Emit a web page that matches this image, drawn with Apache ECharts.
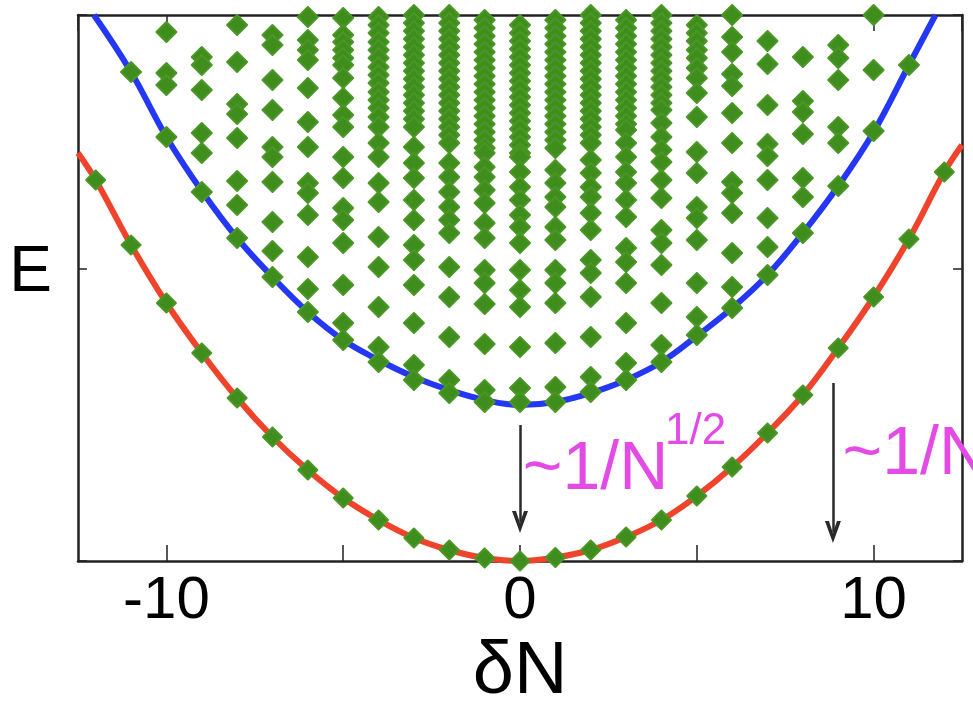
<!DOCTYPE html>
<html><head><meta charset="utf-8">
<script src="https://cdn.jsdelivr.net/npm/echarts@6/dist/echarts.min.js"></script>
<style>html,body{margin:0;padding:0;background:#fff}#c{width:973px;height:707px}</style>
</head><body><div id="c"></div>
<script>
// ---- data (E in arbitrary units; 0 = lowest state) ----
const xTickLabels = [-10, 0, 10];
const redX = [-12,-11,-10,-9,-8,-7,-6,-5,-4,-3,-2,-1,0,1,2,3,4,5,6,7,8,9,10,11,12];
const redE = [381,316,258,208,163,124,91,63,41,23,11,3,0,3.5,11,24,41,65,94,128,166,213,264,322,389];
const redCurveX = [-12.5,-12,-11,-10,-9,-8,-7,-6,-5,-4,-3,-2,-1,0,1,2,3,4,5,6,7,8,9,10,11,12,12.5];
const redCurveE = [408,381,316,258,208,163,124,91,63,41,23,11,3,0,3.5,11,24,41,65,94,128,166,213,264,322,389,416];
const blueCurveX = [-12.05,-11,-10,-9,-8,-7,-6,-5,-4,-3,-2,-1,0,1,2,3,4,5,6,7,8,9,10,11,11.75];
const blueCurveE = [546,489,424,370,323,284,249,221,201,184,171,161,156,159,168,181,199,225,253,286,328,375,429,496,546];
const greenColumnX = [-11,-10,-9,-8,-7,-6,-5,-4,-3,-2,-1,0,1,2,3,4,5,6,7,8,9,10,11];
const greenColumnE = [
  [489],
  [529,488,476,424],
  [504,496,471,428,408,369],
  [536,499,457,447,423,380,356,323],
  [526,516,481,451,414,404,379,339,310,284],
  [544,521,511,501,473,439,414,378,368,346,304,272,249],
  [543,526,519,511,503,496,483,463,446,434,404,383,353,341,318,276,238,221],
  [544,536,528,519,511,503,494,486,478,469,461,453,444,434,418,404,378,359,324,294,254,214,199],
  [546,538,530,522,514,506,498,490,482,474,466,458,450,442,434,414,398,383,361,341,316,301,276,238,196,181],
  [546,538,530,522,514,506,498,490,482,474,466,458,450,442,434,426,418,398,384,369,354,341,328,294,264,224,181,168],
  [541,533,525,517,509,501,493,485,477,469,461,453,445,437,429,421,413,408,394,384,371,358,338,323,291,278,257,217,171,159],
  [536,528,520,512,504,496,488,480,472,464,456,448,440,432,424,416,408,404,389,374,361,346,334,318,291,271,254,214,173,159],
  [541,533,525,517,509,501,493,485,477,469,461,453,445,437,429,421,413,391,378,364,354,334,321,291,278,258,218,174,159],
  [546,538,530,522,514,506,498,490,482,474,466,458,450,442,434,426,418,401,388,374,364,348,331,301,288,264,224,184,169],
  [541,533,525,517,509,501,493,485,477,469,461,453,445,437,431,418,404,389,378,361,344,313,299,278,238,198,181],
  [546,538,530,522,514,506,498,490,482,474,466,458,451,438,424,411,399,381,363,331,318,296,258,216,199],
  [536,528,520,511,503,493,483,468,444,409,388,354,343,321,278,244,226],
  [546,524,509,487,475,448,418,379,368,348,308,274,253],
  [520,497,456,417,405,381,343,314,286],
  [504,460,449,427,383,364,328],
  [516,503,481,434,418,375],
  [546,491,430],
  [496]
];
const arrowX = [0, 8.85];
const arrowFromE = [136, 178];
const arrowToE = [39, 29];
const annoText = ['~1/N', '~1/N'];
const annoX = [0.08, 9.12];
const annoE = [91, 106];
const supText = '1/2';
const supX = 4.1, supE = 129;
const yTitle = 'E', yTitleE = 288;

// ---- build ----
const greenPts = [];
greenColumnX.forEach((x, i) => greenColumnE[i].forEach(e => greenPts.push([x, e])));
const redPts = redX.map((x, i) => [x, redE[i]]);
const redLine = redCurveX.map((x, i) => [x, redCurveE[i]]);
const blueLine = blueCurveX.map((x, i) => [x, blueCurveE[i]]);
const arrows = arrowX.map((x, i) => [{coord: [x, arrowFromE[i]]}, {coord: [x, arrowToE[i]]}]);

const FONT = "'Liberation Sans',Arial,sans-serif";
const MAG = '#e44be6';
const GREEN = '#3f8e1d';
const axisLine = {show: true, onZero: false, lineStyle: {color: '#222', width: 2.5}};
const dotStyle = {color: GREEN, opacity: 1, borderColor: '#4a9626', borderWidth: 2, borderJoin: 'round'};

const chart = echarts.init(document.getElementById('c'), null, {renderer: 'canvas'});
const option = {
  animation: false,
  backgroundColor: '#fff',
  grid: {left: 78, right: 11, top: 15, bottom: 146, containLabel: false, outerBoundsMode: 'none'},
  xAxis: [{
    type: 'value', min: -12.5, max: 12.5, splitNumber: 5, position: 'bottom',
    axisLine, splitLine: {show: false},
    axisTick: {inside: true, length: 16, lineStyle: {color: '#222', width: 1.5}},
    axisLabel: {
      showMinLabel: false, showMaxLabel: false, margin: 10,
      fontSize: 60, color: '#000', fontFamily: FONT,
      formatter: v => (xTickLabels.indexOf(v) >= 0 ? String(v) : '')
    },
    name: 'δN', nameLocation: 'middle', nameGap: 60,
    nameTextStyle: {fontSize: 74, color: '#000', fontFamily: FONT}
  }, {
    type: 'value', min: -12.5, max: 12.5, splitNumber: 5, position: 'top',
    axisLine, splitLine: {show: false},
    axisTick: {inside: true, length: 16, lineStyle: {color: '#222', width: 1.5}},
    axisLabel: {show: false}
  }],
  yAxis: [{
    type: 'value', min: 0, max: 546, interval: 292, position: 'left',
    axisLine, splitLine: {show: false},
    axisTick: {inside: true, length: 9, lineStyle: {color: '#222', width: 1.5}},
    axisLabel: {show: false}
  }, {
    type: 'value', min: 0, max: 546, interval: 292, position: 'right',
    axisLine, splitLine: {show: false},
    axisTick: {inside: true, length: 9, lineStyle: {color: '#222', width: 1.5}},
    axisLabel: {show: false}
  }],
  series: [
    {type: 'line', data: redLine, smooth: 0.4, showSymbol: false, symbol: 'none',
     lineStyle: {color: '#f0432c', width: 6}, z: 2, silent: true},
    {type: 'line', data: blueLine, smooth: 0.4, showSymbol: false, symbol: 'none',
     lineStyle: {color: '#2437f5', width: 6}, z: 2, silent: true},
    {type: 'scatter', data: greenPts, symbol: 'diamond', symbolSize: 20, clip: false,
     itemStyle: dotStyle, z: 3, silent: true},
    {type: 'scatter', data: redPts, symbol: 'diamond', symbolSize: 19, clip: false,
     itemStyle: dotStyle, z: 3, silent: true,
     markLine: {
       silent: true, animation: false,
       symbol: ['none', 'path://M0,20 L10,0 L20,20 L15,20 L10,9 L5,20 Z'],
       symbolSize: [16, 22],
       label: {show: false},
       lineStyle: {color: '#2a2a2a', width: 2.5, type: 'solid'},
       data: arrows
     }}
  ]
};
chart.setOption(option);

const px = (x, e) => chart.convertToPixel({xAxisIndex: 0, yAxisIndex: 0}, [x, e]);
const graphics = annoText.map((t, i) => {
  const p = px(annoX[i], annoE[i]);
  return {type: 'text', x: p[0], y: p[1], z: 10,
    style: {text: t, fill: MAG, fontSize: 68, fontFamily: FONT, align: 'left', verticalAlign: 'middle'}};
});
const sp = px(supX, supE);
graphics.push({type: 'text', x: sp[0], y: sp[1], z: 10,
  style: {text: supText, fill: MAG, fontSize: 44, fontFamily: FONT, align: 'left', verticalAlign: 'middle'}});
const ep = px(-12.5, yTitleE);
graphics.push({type: 'text', x: ep[0] - 26, y: ep[1], z: 10,
  style: {text: yTitle, fill: '#000', fontSize: 64, fontFamily: FONT, align: 'right', verticalAlign: 'middle'}});
chart.setOption({graphic: graphics});
</script>
</body></html>
